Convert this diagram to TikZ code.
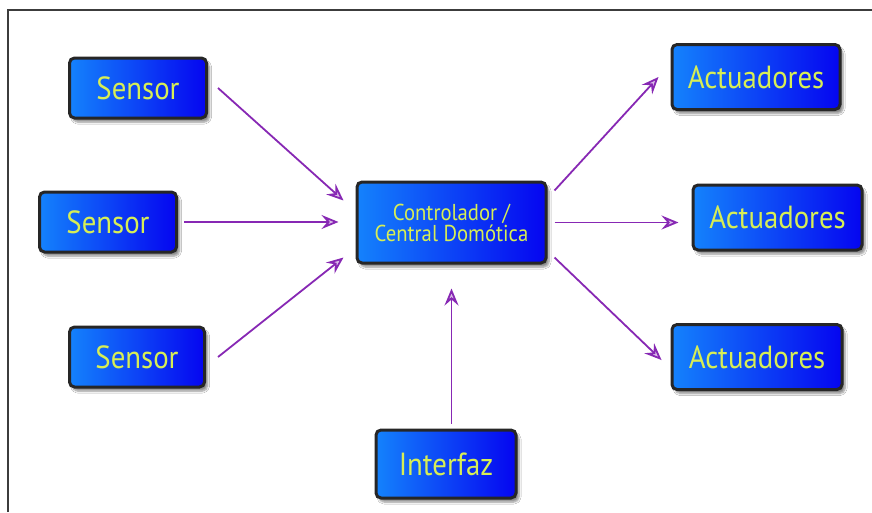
\documentclass[tikz,border=0pt]{standalone}
\usepackage{fontspec}
\setmainfont{PT Sans}
\newfontfamily\boxfont[FakeStretch=0.9]{PT Sans}
\usetikzlibrary{arrows.meta,shadows.blur,calc}
\definecolor{boxL}{RGB}{20,130,252}
\definecolor{boxR}{RGB}{5,5,240}
\definecolor{txtY}{RGB}{215,238,85}
\definecolor{arrP}{RGB}{135,40,180}
\definecolor{frameC}{RGB}{60,60,60}
\begin{document}
\begin{tikzpicture}[x=1pt,y=-1pt,
  box/.style={draw=black!85, line width=3pt, rounded corners=5pt,
    left color=boxL, right color=boxR, text=txtY,
    font=\boxfont\fontsize{32}{32}\selectfont, inner sep=0pt,
    blur shadow={shadow xshift=3pt, shadow yshift=-4pt, shadow blur steps=6, shadow opacity=45}},
  arr/.style={draw=arrP, line width=1.8pt,
    -{Stealth[length=17pt,width=14pt,inset=6pt,fill=arrP!30!white]}}]
\useasboundingbox (0,0) rectangle (872,512);
\fill[white] (0,0) rectangle (872,512);
\draw[frameC, line width=1.2pt] (8,512) -- (8,10) -- (872,10);
\node[box, minimum width=137pt, minimum height=60pt] (s1) at (138,88) {Sensor};
\node[box, minimum width=137pt, minimum height=60pt] (s2) at (108,222) {Sensor};
\node[box, minimum width=135pt, minimum height=60pt] (s3) at (137,357) {Sensor};
\node[box, minimum width=189pt, minimum height=81pt, align=center,
  font=\boxfont\fontsize{23}{21}\selectfont] (ctrl) at (451.5,222.5) {Controlador /\\Central Domótica};
\node[box, minimum width=168pt, minimum height=65pt] (a1) at (756,77) {Actuadores};
\node[box, minimum width=169pt, minimum height=65pt] (a2) at (777.5,217.5) {Actuadores};
\node[box, minimum width=170pt, minimum height=65pt] (a3) at (757,357) {Actuadores};
\node[box, minimum width=140pt, minimum height=68pt] (if) at (446,464) {Interfaz};
\draw[arr] ([xshift=10pt]s1.east) -- ([xshift=-12pt,yshift=22pt]ctrl.west);
\draw[arr] ([xshift=6pt]s2.east) -- ([xshift=-17pt]s2.east -| ctrl.west);
\draw[arr] ([xshift=12pt]s3.east) -- ([xshift=-12pt,yshift=-35pt]ctrl.west);
\draw[arr] ([xshift=7pt,yshift=32pt]ctrl.east) -- ([xshift=-12pt]a1.west);
\draw[arr] ([xshift=7pt]ctrl.east) -- ([xshift=-13pt]ctrl.east -| a2.west);
\draw[arr] ([xshift=7pt,yshift=-35pt]ctrl.east) -- ([xshift=-9pt,yshift=-3pt]a3.west);
\draw[arr] ([yshift=5pt]if.north -| ctrl.south) -- ([yshift=-24pt]ctrl.south);
\end{tikzpicture}
\end{document}
